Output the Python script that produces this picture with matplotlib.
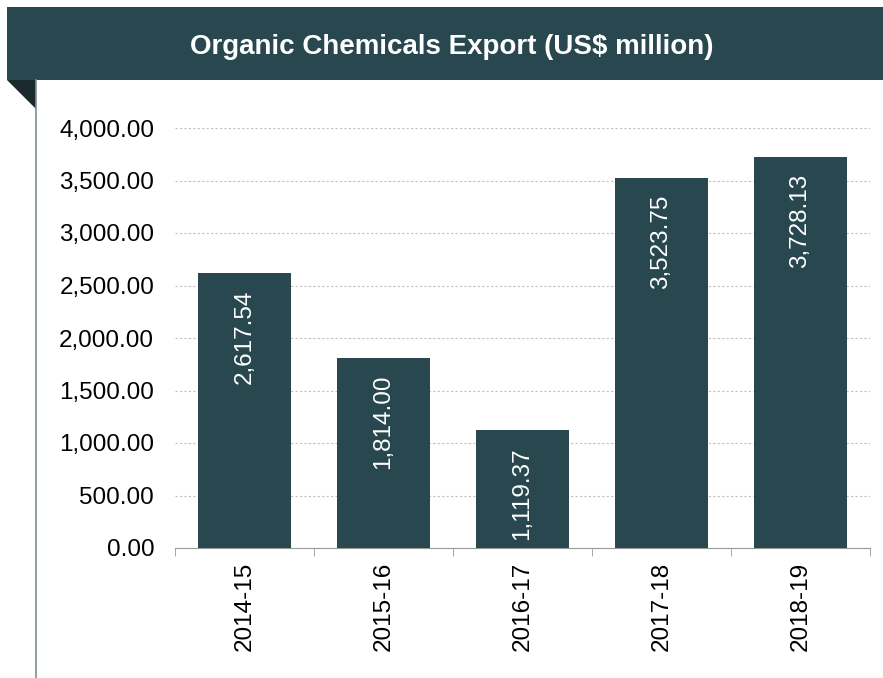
import matplotlib.pyplot as plt
from matplotlib.patches import Rectangle, Polygon

years = ["2014-15", "2015-16", "2016-17", "2017-18", "2018-19"]
exports = [2617.54, 1814.00, 1119.37, 3523.75, 3728.13]
yticks = [0, 500, 1000, 1500, 2000, 2500, 3000, 3500, 4000]

dark = "#29474f"
plt.rcParams['font.family'] = ['Liberation Sans', 'DejaVu Sans']

W, H = 883, 678
fig = plt.figure(figsize=(W / 100, H / 100), dpi=100)

# banner, corner fold and side line (figure pixel coords)
def fx(x):
    return x / W

def fy(y):
    return 1 - y / H

fig.patches.append(Rectangle((fx(7), fy(80)), fx(876), 73 / H, transform=fig.transFigure,
                             facecolor=dark, edgecolor="none"))
fig.patches.append(Polygon([(fx(7), fy(80)), (fx(36), fy(80)), (fx(36), fy(109))],
                           transform=fig.transFigure, facecolor="#1a2a2f", edgecolor="none"))
fig.add_artist(plt.Line2D([fx(36), fx(36)], [fy(80), 0], transform=fig.transFigure,
                          color="#7f8f95", lw=1.2))
fig.text(fx(452), fy(47), "Organic Chemicals Export (US$ million)", color="white",
         fontsize=20, fontweight="bold", ha="center", va="center")

ax = fig.add_axes([fx(175), 1 - 548 / H, (870 - 175) / W, 420 / H])
x = range(len(years))
bars = ax.bar(x, exports, width=0.67, color=dark, zorder=3)
for b, v in zip(bars, exports):
    ax.text(b.get_x() + b.get_width() / 2, v - 160, f"{v:,.2f}", rotation=90,
            ha="center", va="top", color="white", fontsize=17.5, zorder=4)

ax.set_xlim(-0.5, len(years) - 0.5)
ax.set_ylim(0, 4000)
ax.set_yticks(yticks)
ax.set_yticklabels([f"{t:,.2f}" for t in yticks], fontsize=17.5)
ax.set_xticks(list(x))
ax.set_xticklabels(years, rotation=90, fontsize=17.5)
ax.tick_params(axis="x", length=0, pad=10)
ax.tick_params(axis="y", length=0, pad=15)
ax.set_xticks([i - 0.5 for i in range(len(years) + 1)], minor=True)
ax.tick_params(axis="x", which="minor", length=6, color="#999999")
ax.yaxis.grid(True, linestyle=(0, (2, 2)), color="#c0c0c0", lw=0.8, zorder=0)
for s in ["top", "right", "left"]:
    ax.spines[s].set_visible(False)
ax.spines["bottom"].set_color("#999999")

plt.savefig("out.png", dpi=100)
